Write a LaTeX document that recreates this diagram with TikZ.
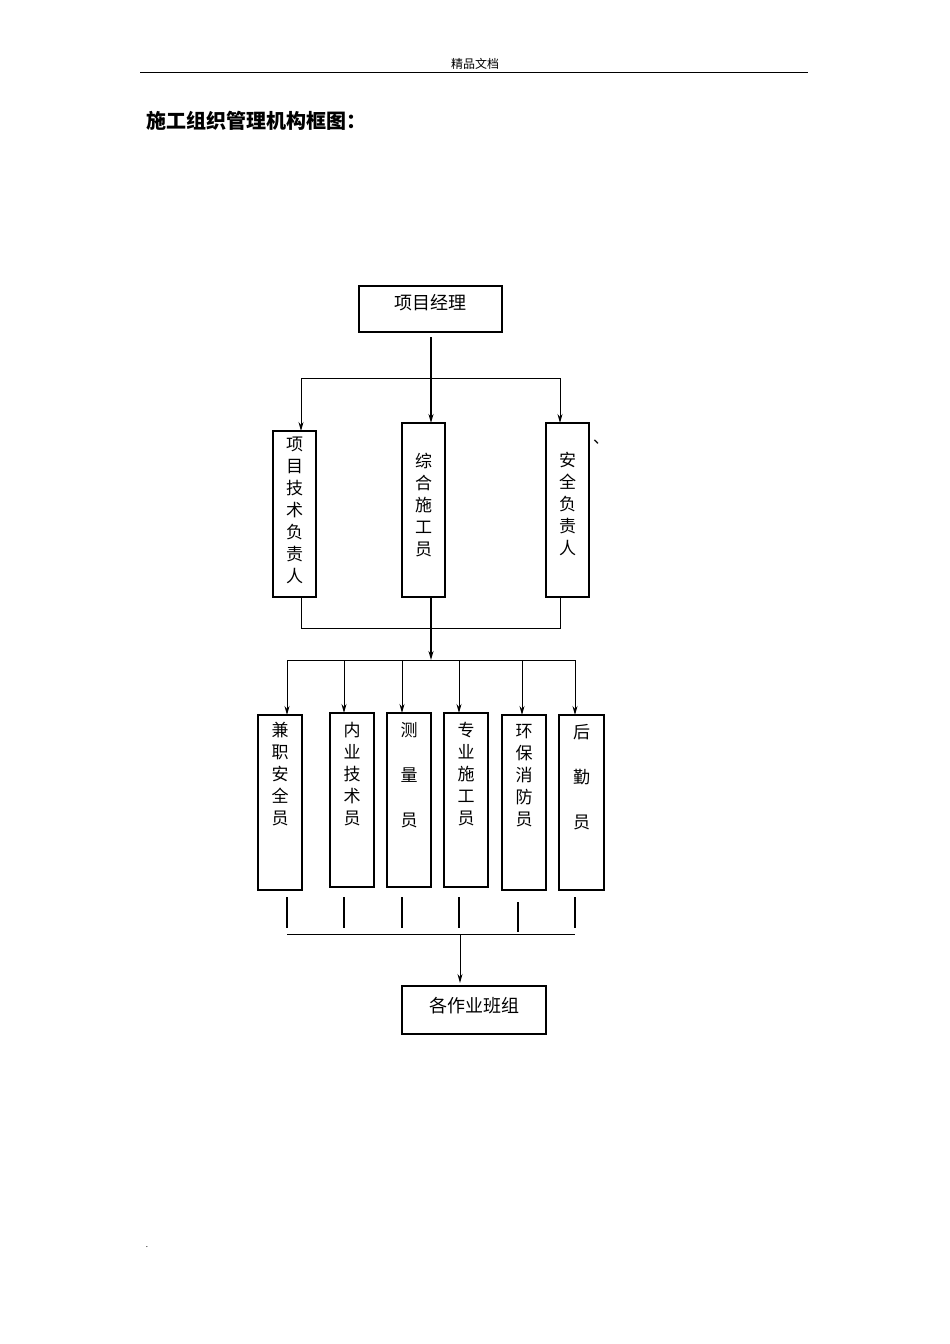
\documentclass[tikz,border=0pt]{standalone}
\usepackage{fontspec}
\setmainfont{Noto Sans CJK SC}
\usetikzlibrary{arrows.meta}
\begin{document}
\begin{tikzpicture}[x=1pt,y=-1pt,
  box/.style={draw,line width=1.2pt,inner sep=0,minimum width=#1},
  vt/.style={anchor=north,align=center,font=\fontsize{17}{22}\selectfont,inner sep=0},
  arr/.style={-{Stealth[length=9pt,width=5pt]},line width=1pt},
  ln/.style={line width=1pt}]
\useasboundingbox (0,0) rectangle (950,1344);
\node[font=\fontsize{12}{14}\selectfont] (hdr) at (475,64) {精品文档};
\coordinate (hl) at (140,72); \coordinate (hr) at (808,72);
\draw[line width=0.8pt] (hl) -- (hr);
\node[anchor=west,font=\fontsize{20}{24}\selectfont\bfseries] (title) at (143,121) {施工组织管理机构框图：};
% top
\draw[box=0] (359,286) rectangle (502,332);
\node[font=\fontsize{18}{22}\selectfont] (pm) at (430.5,303) {项目经理};
\coordinate (pmb) at (431,337);
\draw[box=0] (273,431) rectangle (316,597);
\draw[box=0] (402,423) rectangle (445,597);
\draw[line width=2pt] (445,423) -- (445,597);
\draw[box=0] (546,423) rectangle (589,597);
\node[vt] (a) at (294.5,437) {项\\目\\技\\术\\负\\责\\人};
\node[vt] (b) at (423.5,453) {综\\合\\施\\工\\员};
\node[vt] (c) at (567.5,452) {安\\全\\负\\责\\人};
\coordinate (at) at (301,431); \coordinate (bt) at (431,423); \coordinate (ct) at (560,423);
\coordinate (j1) at (301,378); \coordinate (j2) at (560,378); \coordinate (jm) at (431,378);
\draw[arr,line width=1.5pt] (pmb) -- (bt);
\draw[ln] (j1) -- (j2);
\draw[arr] (j1) -- (at);
\draw[arr] (j2) -- (ct);
\node[font=\fontsize{16}{16}\selectfont] (dun) at (601,442) {、};
% middle merge
\coordinate (ab) at (301,597); \coordinate (cb) at (560,597);
\coordinate (k1) at (301,628); \coordinate (k2) at (560,628);
\draw[ln] (ab) -- (k1) -- (k2) -- (cb);
\coordinate (bb) at (431,597); \coordinate (m) at (431,660);
\draw[arr,line width=1.5pt] (bb) -- (m);
\coordinate (h1) at (287,660); \coordinate (h2) at (575,660);
\draw[ln] (h1) -- (h2);
% lower boxes
\foreach \n/\l/\r/\t/\bt/\ax in {d/258/302/715/890/287, e/330/374/713/887/344, f/387/431/713/887/402, g/444/488/713/887/459, h/502/546/715/890/522, i/559/604/715/890/575}{
  \draw[box=0] (\l,\t) rectangle (\r,\bt);
  \coordinate (\n top) at (\ax,\t);
  \coordinate (\n src) at (\ax,660);
  \draw[arr] (\n src) -- (\n top);
}
\node[vt] (dt) at (280,722) {兼\\职\\安\\全\\员};
\node[vt] (et) at (352,722) {内\\业\\技\\术\\员};
\node[vt,font=\fontsize{17}{45}\selectfont] (ft) at (409,722) {测\\量\\员};
\node[vt] (gt) at (466,722) {专\\业\\施\\工\\员};
\node[vt] (ht) at (524,724) {环\\保\\消\\防\\员};
\node[vt,font=\fontsize{17}{45}\selectfont] (it) at (581.5,724) {后\\勤\\员};
\foreach \x/\a/\b in {287/897/928, 344/897/928, 402/897/928, 459/897/928, 518/902/932, 575/897/928}{
  \coordinate (s1) at (\x,\a); \coordinate (s2) at (\x,\b);
  \draw[line width=2pt] (s1) -- (s2);
}
\coordinate (q1) at (287,934); \coordinate (q2) at (575,934);
\draw[ln] (q1) -- (q2);
\coordinate (qm) at (460,934); \coordinate (zt) at (460,983);
\draw[arr] (qm) -- (zt);
\draw[box=0] (402,986) rectangle (546,1034);
\node[font=\fontsize{18}{22}\selectfont] (z) at (474,1006) {各作业班组};
\node[font=\fontsize{8}{8}\selectfont] (dot) at (147,1247) {.};
\end{tikzpicture}
\end{document}
